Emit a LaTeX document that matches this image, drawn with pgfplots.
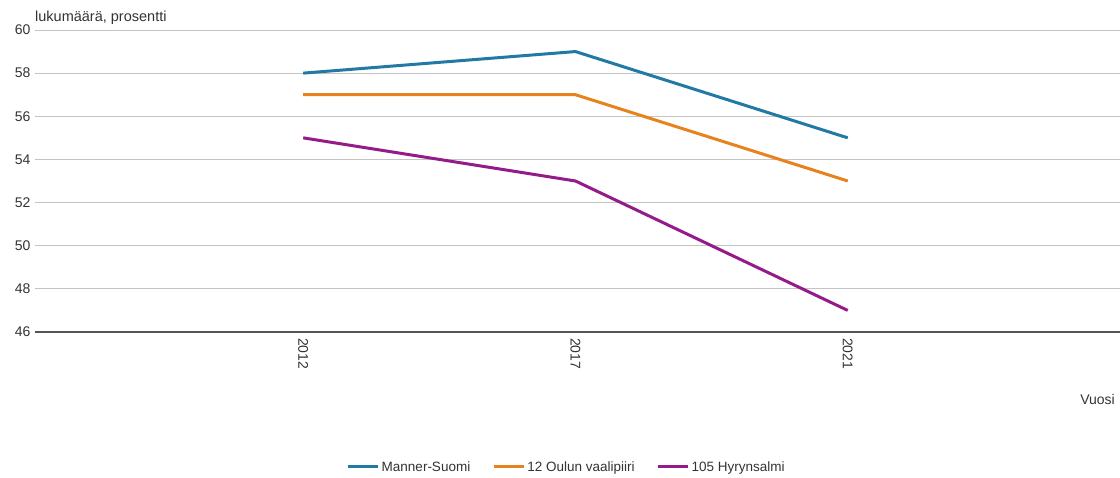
\documentclass[border=0pt]{standalone}
\usepackage{pgfplots}
\pgfplotsset{compat=1.18}
\usepackage{fontspec}
\setmainfont{Liberation Sans}
\definecolor{cblue}{HTML}{2279A6}
\definecolor{corange}{HTML}{E8821E}
\definecolor{cpurple}{HTML}{951B8A}
\definecolor{cgrid}{HTML}{C4C4C4}
\definecolor{caxis}{HTML}{555555}
\definecolor{ctext}{HTML}{333333}
\begin{document}
\begin{tikzpicture}[x=1pt,y=1pt]
\path[use as bounding box] (0,0) rectangle (1120,478);
\begin{axis}[
  at={(35pt,146pt)}, anchor=south west,
  scale only axis, width=1085pt, height=302pt,
  xmin=-0.985, xmax=3, ymin=46, ymax=60,
  xtick={0,1,2}, xticklabels={2012,2017,2021},
  ytick={46,48,...,60},
  axis x line*=bottom, axis y line*=left,
  x axis line style={draw=caxis, line width=1.6pt, -},
  y axis line style={draw=none},
  ymajorgrids, grid style={draw=cgrid, line width=0.8pt},
  major tick length=0pt,
  tick label style={font=\fontsize{14}{16}\selectfont, text=ctext},
  xticklabel style={rotate=-90, anchor=west, inner sep=6pt},
  yticklabel style={anchor=east, xshift=-1pt},
  /pgf/number format/assume math mode=true,
  clip=false,
  legend style={at={(0.49,-0.447)}, anchor=center, draw=none, font=\fontsize{13.5}{15}\selectfont, text=ctext,
    legend columns=-1, /tikz/every even column/.append style={column sep=20pt}},
  legend image code/.code={\draw[#1, line width=3pt] (0pt,0pt) -- (30pt,0pt);},
]
\addplot[cblue, line width=3pt] coordinates {(0,58) (1,59) (2,55)};
\addlegendentry{Manner-Suomi}
\addplot[corange, line width=3pt] coordinates {(0,57) (1,57) (2,53)};
\addlegendentry{12 Oulun vaalipiiri}
\addplot[cpurple, line width=3pt] coordinates {(0,55) (1,53) (2,47)};
\addlegendentry{105 Hyrynsalmi}
\end{axis}
\node[anchor=south west, inner sep=0pt, text=ctext, font=\fontsize{14.5}{16}\selectfont] at (35,453) {lukumäärä, prosentti};
\node[anchor=east, inner sep=0pt, text=ctext, font=\fontsize{14}{16}\selectfont] at (1115,78) {Vuosi};
\end{tikzpicture}
\end{document}
